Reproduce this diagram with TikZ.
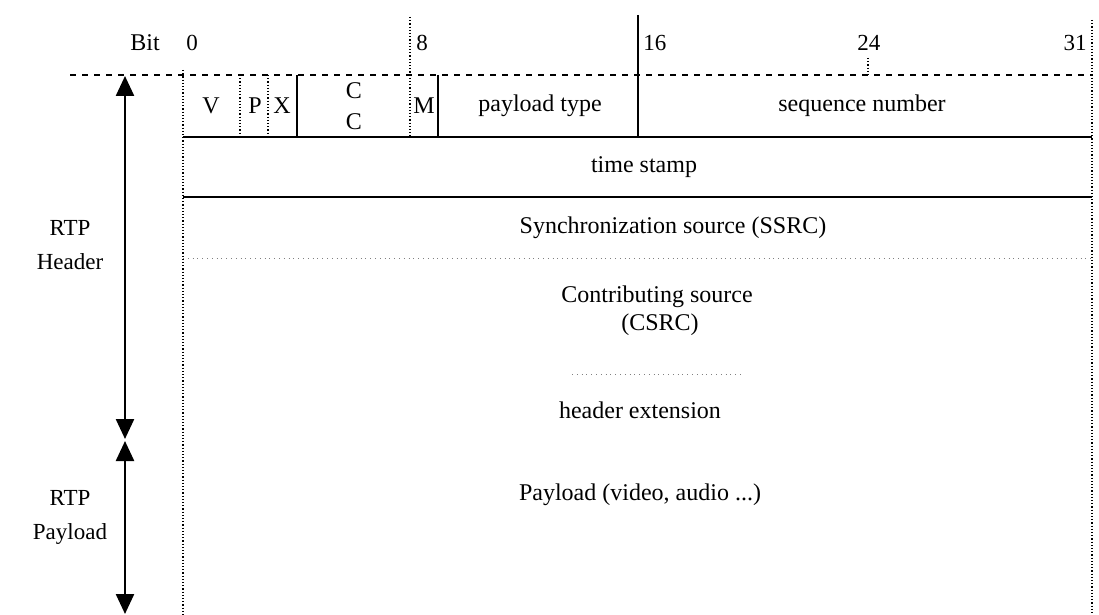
\documentclass[tikz,border=0pt]{standalone}
\usepackage{fontspec}
\setmainfont{Liberation Serif}
\usetikzlibrary{arrows.meta}

\tikzstyle{field}=[inner sep=0pt,
                   font=\fontsize{12}{14}\selectfont]
\tikzstyle{bitlabel}=[inner sep=0pt,
                      anchor=west,
                      font=\fontsize{11.5}{14}\selectfont]
\tikzstyle{sidelabel}=[inner sep=0pt,
                       align=center,
                       font=\fontsize{11.5}{17}\selectfont]
\tikzstyle{rowline}=[line width=0.8pt]
\tikzstyle{gridline}=[densely dotted, line width=0.6pt]
\tikzstyle{faintline}=[dotted, line width=0.4pt, gray]
\tikzstyle{span}=[{Triangle[width=9pt,length=10pt]}-{Triangle[width=9pt,length=10pt]},
                  line width=1.2pt]

\begin{document}
\begin{tikzpicture}[x=0.5pt,y=-0.5pt]
    \useasboundingbox (0,0) rectangle (1099,615);

    % bit numbers
    \node [field] (bit) at (145,43) {Bit};
    \node [bitlabel] (b0) at (186,43) {0};
    \node [bitlabel] (b8) at (416,43) {8};
    \node [bitlabel] (b16) at (643,43) {16};
    \node [bitlabel] (b24) at (857,43) {24};
    \node [bitlabel, anchor=east] (b31) at (1087,43) {31};

    % frame
    \draw [rowline, dashed] (70,75) -- (1092,75);
    \draw [rowline] (183,137) -- (1092,137);
    \draw [rowline] (183,197) -- (1092,197);
    \draw [faintline] (183,258) -- (1092,258);
    \draw [faintline] (572,374) -- (742,374);
    \draw [gridline] (183,70) -- (183,615);
    \draw [gridline] (1092,20) -- (1092,615);

    % first word
    \draw [gridline] (240,75) -- (240,137);
    \draw [gridline] (268,75) -- (268,137);
    \draw [rowline] (297,75) -- (297,137);
    \draw [gridline] (410,17) -- (410,137);
    \draw [rowline] (438,75) -- (438,137);
    \draw [rowline] (638,15) -- (638,137);
    \draw [gridline] (868,58) -- (868,75);

    \node [field] (v) at (211,106) {V};
    \node [field] (p) at (255,106) {P};
    \node [field] (x) at (282,106) {X};
    \node [field] (cc1) at (354,91) {C};
    \node [field] (cc2) at (354,122) {C};
    \node [field] (m) at (424,106) {M};
    \node [field] (ptype) at (540,106) {payload type};
    \node [field] (seq) at (862,106) {sequence number};

    % remaining header words
    \node [field] (ts) at (644,167) {time stamp};
    \node [field] (ssrc) at (673,228) {Synchronization source (SSRC)};
    \node [field, align=center] (csrc) at (657,311) {Contributing source\\ \ (CSRC)};
    \node [field] (ext) at (640,410) {header extension};
    \node [field] (pld) at (640,495) {Payload (video, audio ...)};

    % header / payload spans
    \coordinate (hdrtop) at (125,76);
    \coordinate (hdrbot) at (125,439);
    \coordinate (pldtop) at (125,441);
    \coordinate (pldbot) at (125,614);
    \draw [span] (hdrtop) -- (hdrbot);
    \draw [span] (pldtop) -- (pldbot);

    \node [sidelabel] (hdr) at (70,245) {RTP\\Header};
    \node [sidelabel] (pay) at (70,517) {RTP\\Payload};
\end{tikzpicture}
\end{document}
